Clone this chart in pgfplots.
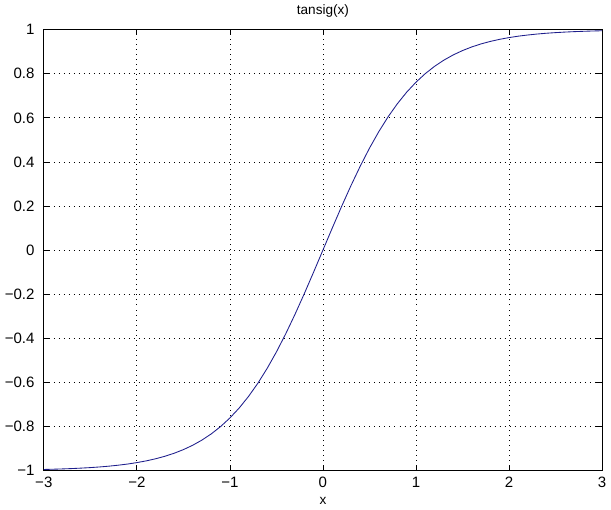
\documentclass[border=0pt]{standalone}
\usepackage{fontspec}
\setmainfont{Liberation Sans}
\usepackage{pgfplots}
\pgfplotsset{compat=1.18}
\definecolor{curve}{RGB}{30,30,140}

\begin{document}
\begin{tikzpicture}
\begin{axis}[
  scale only axis,
  width=390pt, height=308pt,
  xmin=-3, xmax=3, ymin=-1, ymax=1,
  xtick={-3,-2,-1,0,1,2,3},
  xticklabels={−3,−2,−1,0,1,2,3},
  ytick={-1,-0.8,-0.6,-0.4,-0.2,0,0.2,0.4,0.6,0.8,1},
  yticklabels={−1,−0.8,−0.6,−0.4,−0.2,0,0.2,0.4,0.6,0.8,1},
  grid=major,
  major grid style={black, line width=0.5pt, dash pattern=on 0.5pt off 3pt},
  axis line style={black, line width=0.7pt},
  tick align=inside, tick style={black, line width=0.5pt},
  major tick length=4pt,
  title={tansig(x)}, xlabel={x},
  title style={font=\fontsize{9.5}{10}\selectfont, yshift=-1pt},
  label style={font=\fontsize{9.5}{10}\selectfont},
  xlabel style={yshift=0pt},
  tick label style={font=\fontsize{10.5}{11}\selectfont},
  y tick label style={xshift=-3pt},
  x tick label style={yshift=-1pt},
]
\addplot[curve, line width=0.6pt] coordinates {
 (-3.0,-0.9951) (-2.9,-0.9940) (-2.8,-0.9926) (-2.7,-0.9910) (-2.6,-0.9890)
 (-2.5,-0.9866) (-2.4,-0.9837) (-2.3,-0.9801) (-2.2,-0.9757) (-2.1,-0.9705)
 (-2.0,-0.9640) (-1.9,-0.9562) (-1.8,-0.9468) (-1.7,-0.9354) (-1.6,-0.9217)
 (-1.5,-0.9051) (-1.4,-0.8854) (-1.3,-0.8617) (-1.2,-0.8337) (-1.1,-0.8005)
 (-1.0,-0.7616) (-0.9,-0.7163) (-0.8,-0.6640) (-0.7,-0.6044) (-0.6,-0.5370)
 (-0.5,-0.4621) (-0.4,-0.3799) (-0.3,-0.2913) (-0.2,-0.1974) (-0.1,-0.0997)
 (0.0,0.0)
 (0.1,0.0997) (0.2,0.1974) (0.3,0.2913) (0.4,0.3799) (0.5,0.4621)
 (0.6,0.5370) (0.7,0.6044) (0.8,0.6640) (0.9,0.7163) (1.0,0.7616)
 (1.1,0.8005) (1.2,0.8337) (1.3,0.8617) (1.4,0.8854) (1.5,0.9051)
 (1.6,0.9217) (1.7,0.9354) (1.8,0.9468) (1.9,0.9562) (2.0,0.9640)
 (2.1,0.9705) (2.2,0.9757) (2.3,0.9801) (2.4,0.9837) (2.5,0.9866)
 (2.6,0.9890) (2.7,0.9910) (2.8,0.9926) (2.9,0.9940) (3.0,0.9951)
};
\end{axis}
\end{tikzpicture}
\end{document}
